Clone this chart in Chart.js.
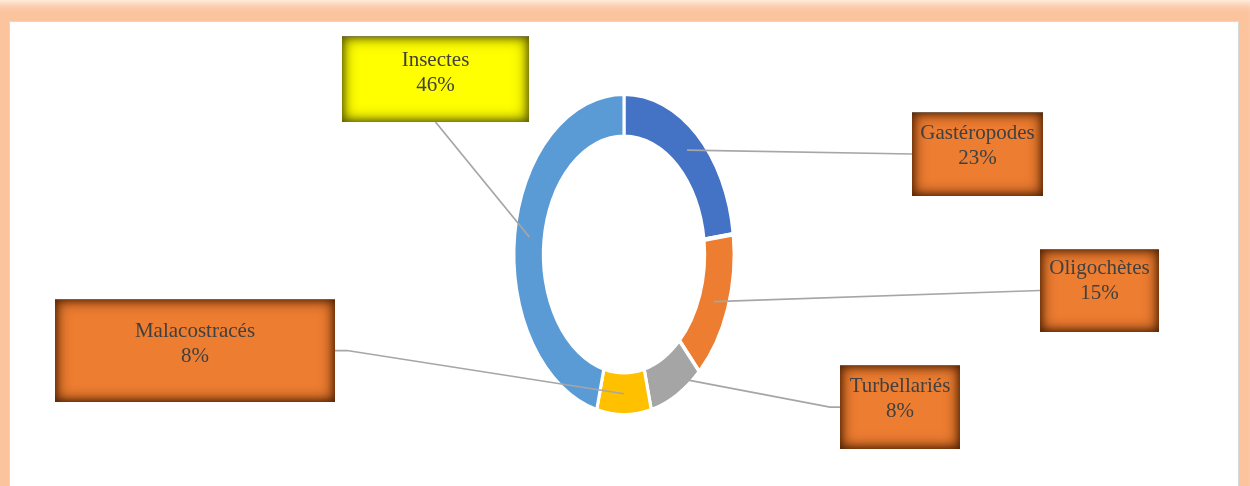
<!DOCTYPE html>
<html lang="fr">
<head>
<meta charset="utf-8">
<title>Répartition des groupes</title>
<script src="https://cdn.jsdelivr.net/npm/chart.js@4.4.1/dist/chart.umd.min.js"></script>
<style>
  html, body { margin: 0; padding: 0; }
  body { width: 1250px; height: 486px; overflow: hidden; position: relative; background: #ffffff; }
  #panel {
    position: absolute; left: 9px; top: 21px; width: 1228px; height: 540px;
    background: #ffffff; border: 1.5px solid #D9D9D9;
    box-shadow: 0 0 10px 19px #FBC49D;
  }
  #chart { position: absolute; left: 0; top: 0; }
</style>
</head>
<body>
<div id="panel"></div>
<canvas id="chart" width="1250" height="486"></canvas>
<script>
// Groupes et pourcentages
const categories = ['Gastéropodes', 'Oligochètes', 'Turbellariés', 'Malacostracés', 'Insectes'];
const percentages = [23, 15, 8, 8, 46];

// Couleurs des secteurs
const sliceColors = ['#4472C4', '#ED7D31', '#A5A5A5', '#FFC000', '#5B9BD5'];

// Géométrie de l'anneau (ellipse : rayon vertical, facteur horizontal)
const ring = { cx: 624, cy: 254.5, outer: 158.5, inner: 120, squeezeX: 0.685, gap: 4.5 };

// Étiquettes encadrées : rectangle, ancrage du trait de rappel, décalage du texte
const callouts = [
  { x: 912,  y: 112, w: 131, h: 84,  side: 'left',   elbow: 0,  textTop: 27, fill: '#ED7D31', shade: 'rgba(80,34,4,1)' },
  { x: 1040, y: 249, w: 119, h: 83,  side: 'left',   elbow: 0,  textTop: 25, fill: '#ED7D31', shade: 'rgba(80,34,4,1)' },
  { x: 840,  y: 365, w: 120, h: 84,  side: 'left',   elbow: 10, textTop: 27, fill: '#ED7D31', shade: 'rgba(80,34,4,1)' },
  { x: 55,   y: 299, w: 280, h: 103, side: 'right',  elbow: 12, textTop: 38, fill: '#ED7D31', shade: 'rgba(80,34,4,1)' },
  { x: 342,  y: 36,  w: 187, h: 86,  side: 'bottom', elbow: 0,  textTop: 30, fill: '#FFFF00', shade: 'rgba(90,90,0,1)' }
];

const outerR = ring.outer + ring.gap / 2;
const innerR = ring.inner - ring.gap / 2;
const boxSize = 2 * outerR + ring.gap;
const W = 1250, H = 486;

// Étire l'anneau en ellipse autour de son centre
const ellipsePlugin = {
  id: 'ellipse',
  beforeDatasetsDraw(chart) {
    const ctx = chart.ctx;
    ctx.save();
    ctx.translate(ring.cx, ring.cy);
    ctx.scale(ring.squeezeX, 1);
    ctx.translate(-ring.cx, -ring.cy);
  },
  afterDatasetsDraw(chart) {
    chart.ctx.restore();
  }
};

// Rectangle plein avec ombre intérieure sur les bords
function innerShadowBox(ctx, b) {
  ctx.save();
  ctx.beginPath();
  ctx.rect(b.x, b.y, b.w, b.h);
  ctx.clip();
  ctx.fillStyle = b.fill;
  ctx.fillRect(b.x, b.y, b.w, b.h);
  ctx.shadowColor = b.shade;
  ctx.fillStyle = b.shade;
  [16, 8].forEach(blur => {
    ctx.shadowBlur = blur;
    ctx.beginPath();
    ctx.rect(b.x - 60, b.y - 60, b.w + 120, b.h + 120);
    ctx.rect(b.x, b.y, b.w, b.h);
    ctx.fill('evenodd');
  });
  ctx.restore();
  ctx.save();
  ctx.strokeStyle = 'rgba(130,120,110,0.6)';
  ctx.lineWidth = 1;
  ctx.beginPath();
  ctx.moveTo(b.x, b.y + 0.5);
  ctx.lineTo(b.x + b.w, b.y + 0.5);
  ctx.stroke();
  ctx.restore();
}

// Traits de rappel et étiquettes encadrées
const calloutPlugin = {
  id: 'callouts',
  afterDatasetsDraw(chart) {
    const ctx = chart.ctx;
    const arcs = chart.getDatasetMeta(0).data;
    arcs.forEach((arc, i) => {
      const b = callouts[i];
      const c = arc.getCenterPoint();
      const sx = ring.cx + (c.x - ring.cx) * ring.squeezeX;
      const sy = c.y;
      let ex, ey;
      if (b.side === 'left') { ex = b.x; ey = b.y + b.h / 2; }
      else if (b.side === 'right') { ex = b.x + b.w; ey = b.y + b.h / 2; }
      else { ex = b.x + b.w / 2; ey = b.y + b.h; }
      ctx.save();
      ctx.strokeStyle = '#A6A6A6';
      ctx.lineWidth = 1.75;
      ctx.beginPath();
      ctx.moveTo(sx, sy);
      if (b.elbow) {
        const kx = b.side === 'left' ? ex - b.elbow : ex + b.elbow;
        ctx.lineTo(kx, ey);
      }
      ctx.lineTo(ex, ey);
      ctx.stroke();
      ctx.restore();
    });
    arcs.forEach((arc, i) => {
      const b = callouts[i];
      innerShadowBox(ctx, b);
      ctx.save();
      ctx.fillStyle = '#404040';
      ctx.font = '21px "Liberation Serif", "Times New Roman", serif';
      ctx.textAlign = 'center';
      ctx.textBaseline = 'alphabetic';
      const mx = b.x + b.w / 2;
      ctx.fillText(categories[i], mx, b.y + b.textTop);
      ctx.fillText(percentages[i] + '%', mx, b.y + b.textTop + 25);
      ctx.restore();
    });
  }
};

new Chart(document.getElementById('chart'), {
  type: 'doughnut',
  data: {
    labels: categories,
    datasets: [{
      data: percentages,
      backgroundColor: sliceColors,
      borderColor: '#ffffff',
      borderWidth: ring.gap,
      hoverOffset: 0,
      clip: false
    }]
  },
  options: {
    responsive: false,
    animation: false,
    events: [],
    cutout: innerR,
    layout: {
      padding: {
        left: ring.cx - boxSize / 2,
        right: W - ring.cx - boxSize / 2,
        top: ring.cy - boxSize / 2,
        bottom: H - ring.cy - boxSize / 2
      }
    },
    plugins: {
      legend: { display: false },
      tooltip: { enabled: false },
      title: { display: false }
    }
  },
  plugins: [ellipsePlugin, calloutPlugin]
});
</script>
</body>
</html>
